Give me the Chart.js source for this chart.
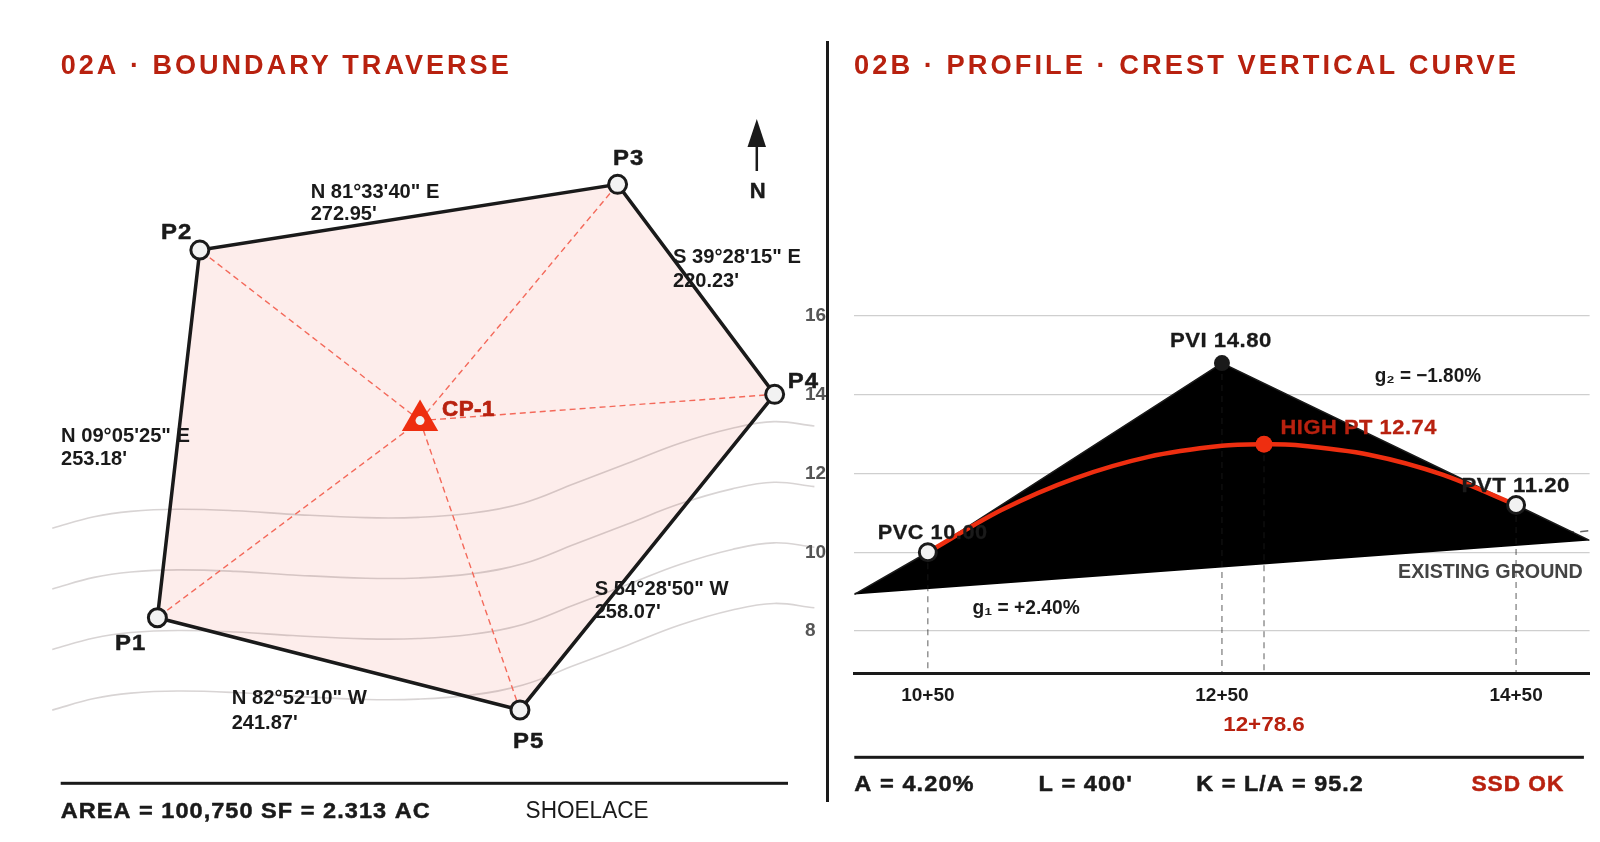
<!DOCTYPE html>
<html><head><meta charset="utf-8">
<style>
html,body{margin:0;padding:0;background:#fff;width:1600px;height:842px;overflow:hidden}
canvas{position:absolute;top:0;display:block}
#plan{left:0}
#profile{left:805px}
#divider{position:absolute;left:825.5px;top:41px;width:3.5px;height:761px;background:#1a1a1a}
</style>
<script src="https://cdn.jsdelivr.net/npm/chart.js@4"></script>
</head><body>
<canvas id="plan" width="828" height="842"></canvas>
<div id="divider"></div>
<canvas id="profile" width="795" height="842"></canvas>
<script>
const INK='#1a1a1a', RED='#b8210f', HOT='#ee2e10', FILL='#fdedeb';
// --- traverse data (feet)
const pointNames=['P1','P2','P3','P4','P5'];
const eastings=[0,28.3,306.8,411.5,241.7];
const northings=[0,245.1,288.9,148.9,-61.5];
const controlEast=[175.1], controlNorth=[131.4];
const contourEast=[-70.1,-42.2,-17.7,13.6,52,90.3,139.1,174,208.9,243.7,278.6,313.5,348.3,383.2,411.1,438];
const contourA=[59.6,67.3,70.9,72.3,71.3,68.9,66.7,66.9,69.6,76.3,89.6,102.9,116.3,126.3,130.7,127.8];
const contourB=[19.2,26.9,30.5,31.9,30.9,28.5,26.3,26.5,29.2,35.9,49.2,62.5,75.9,85.9,90.3,87.4];
const contourC=[-21.2,-13.5,-9.9,-8.5,-9.5,-11.9,-14.1,-13.9,-11.2,-4.5,8.8,22.1,35.5,45.5,49.9,47];
const contourD=[-61.6,-53.9,-50.3,-48.9,-49.9,-52.3,-54.5,-54.3,-51.6,-44.9,-31.6,-18.3,-4.9,5.1,9.5,6.6];
// --- profile data
const stationTicks=[1050,1250,1450];
const stationLabels=['10+50','12+50','14+50'];
const elevationTicks=[8,10,12,14,16];
const tangentStations=[1000,1050,1250,1450,1500];
const tangentElev=[8.93,10,14.8,11.2,10.3];
const groundStations=[1000,1100,1250,1400,1488,1500];
const groundElev=[8.95,9.9,11.4,11.2,10.52,10.55];
const curveStations=[1050,1100,1150,1200,1250,1278.6,1300,1350,1400,1450];
const curveElev=[10,11.07,11.875,12.42,12.7,12.74,12.72,12.475,11.97,11.2];
const keyStations=[1050,1250,1278.6,1450];
const keyElev=[10,14.8,12.74,11.2];

const zip=(a,b)=>a.map((v,i)=>({x:v,y:b[i]}));
const pick=(idx)=>idx.map(i=>({x:eastings[i],y:northings[i]}));
Chart.defaults.font.family='"Liberation Sans",Arial,sans-serif';

function txt(ctx,s,x,y,size,weight,color,width,align,spacing,stroke){
  ctx.save();
  ctx.font=`${weight} ${size}px "Liberation Sans",Arial,sans-serif`;
  ctx.fillStyle=color; ctx.textBaseline='middle'; ctx.textAlign='left';
  if(spacing) ctx.letterSpacing=spacing+'px';
  const m=ctx.measureText(s).width;
  const w=width||m, sx=w/m;
  const x0=align==='center'?x-w/2:x;
  ctx.translate(x0,y+1.5); ctx.scale(sx,1);
  if(stroke){ctx.strokeStyle=color;ctx.lineWidth=stroke;ctx.lineJoin='round';ctx.strokeText(s,0,0);}
  ctx.fillText(s,0,0);
  ctx.restore();
}
function rule(ctx,x0,x1,y,h){ctx.fillStyle=INK;ctx.fillRect(x0,y-h/2,x1-x0,h);}

const planText={id:'planText',afterDatasetsDraw(c){
  const ctx=c.ctx;
  txt(ctx,'02A · BOUNDARY TRAVERSE',60.7,64.7,27,'bold',RED,451,'left',3);
  [['P1',130.8,642.5],['P2',176.8,231],['P3',628.7,157],['P4',803.5,380.5],['P5',528.8,740.5]]
    .forEach(p=>txt(ctx,p[0],p[1],p[2],22,'bold',INK,31.4,'center',1,0.5));
  txt(ctx,'N',757.8,190,22,'bold',INK,null,'center',0,0.5);
  txt(ctx,'CP-1',442,408,22,'bold',RED,53,'left',0.5,0.7);
  [['N 81°33\'40" E',310.7,190.7,128.6,'272.95\'',213.3],
   ['S 39°28\'15" E',673,256,128,'220.23\'',280],
   ['N 09°05\'25" E',61,435,129,'253.18\'',458],
   ['S 54°28\'50" W',594.7,587.7,133.9,'258.07\'',611],
   ['N 82°52\'10" W',231.7,697,135.3,'241.87\'',721.7]].forEach(b=>{
     txt(ctx,b[0],b[1],b[2],20,'bold',INK,b[3]);
     txt(ctx,b[4],b[1],b[5],20,'bold',INK,66);
  });
  // north arrow
  ctx.strokeStyle=INK;ctx.lineWidth=2.5;ctx.beginPath();ctx.moveTo(756.8,146);ctx.lineTo(756.8,171);ctx.stroke();
  ctx.fillStyle=INK;ctx.beginPath();ctx.moveTo(756.8,119);ctx.lineTo(766,147);ctx.lineTo(747.5,147);ctx.closePath();ctx.fill();
  rule(ctx,60.7,788,783.3,3);
  txt(ctx,'AREA = 100,750 SF = 2.313 AC',60.7,810,22.5,'bold',INK,370,'left',1,0.5);
  txt(ctx,'SHOELACE',525.6,810,23,'normal',INK,123);
}};
new Chart(document.getElementById('plan'),{
  type:'scatter',
  plugins:[planText],
  data:{datasets:[
    {data:pick([0,1,2,3]),showLine:true,fill:'+1',backgroundColor:FILL,borderColor:INK,borderWidth:3.5,pointRadius:0,tension:0,order:3},
    {data:pick([0,4,3]),showLine:true,borderColor:INK,borderWidth:3.5,pointRadius:0,tension:0,order:3},
    ...[contourA,contourB,contourC,contourD].map(c=>({data:zip(contourEast,c),showLine:true,borderColor:'rgba(60,40,40,0.2)',borderWidth:1.6,pointRadius:0,tension:0.4,order:5})),
    ...[0,1,2,3,4].map(i=>({data:[{x:controlEast[0],y:controlNorth[0]},{x:eastings[i],y:northings[i]}],showLine:true,borderColor:'#f4695a',borderWidth:1.4,borderDash:[6,4],pointRadius:0,tension:0,order:4})),
    {data:zip(eastings,northings),pointStyle:'circle',pointRadius:9,pointBorderWidth:3,pointBackgroundColor:'#f2f2f2',pointBorderColor:INK,order:1},
    {data:zip(controlEast,controlNorth),pointStyle:'circle',pointRadius:4.5,pointBorderWidth:0,pointBackgroundColor:'#f2f2f2',order:0},
    {data:zip(controlEast,controlNorth),pointStyle:'triangle',pointRadius:21,pointBorderWidth:0,pointBackgroundColor:HOT,order:1}
  ]},
  options:{responsive:false,animation:false,devicePixelRatio:1,
    layout:{padding:0,autoPadding:false},
    plugins:{legend:{display:false},tooltip:{enabled:false},filler:{drawTime:'beforeDatasetsDraw'}},
    scales:{
      x:{type:'linear',display:false,min:-104.93,max:447.07},
      y:{type:'linear',display:false,min:-149.53,max:411.8}
    }}
});

const profileText={id:'profileText',afterDatasetsDraw(c){
  const ctx=c.ctx, L=-805;
  txt(ctx,'02B · PROFILE · CREST VERTICAL CURVE',854+L,64.7,27,'bold',RED,665,'left',3);
  txt(ctx,'PVI 14.80',1220.9+L,339.8,21,'bold',INK,102,'center',0.5,0.3);
  txt(ctx,'PVC 10.00',877.8+L,531.8,21,'bold',INK,109.8,'left',0.5,0.3);
  txt(ctx,'PVT 11.20',1461.5+L,484.5,21,'bold',INK,108.5,'left',0.5,0.3);
  txt(ctx,'HIGH PT 12.74',1280.5+L,426.5,21,'bold',RED,156.4,'left',0.5,0.3);
  txt(ctx,'g₂ = −1.80%',1374.7+L,375,20,'bold',INK,106.3);
  txt(ctx,'g₁ = +2.40%',972.5+L,606.7,20,'bold',INK,107.2);
  txt(ctx,'EXISTING GROUND',1398+L,571,20,'bold','#444',184.8);
  txt(ctx,'12+78.6',1264+L,723.3,21,'bold',RED,81.6,'center');
  rule(ctx,854.3+L,1583.9+L,757.3,3);
  txt(ctx,'A = 4.20%',854.3+L,783.3,22.5,'bold',INK,120.3,'left',1,0.5);
  txt(ctx,"L = 400'",1038.4+L,783.3,22.5,'bold',INK,94.5,'left',1,0.5);
  txt(ctx,'K = L/A = 95.2',1196.3+L,783.3,22.5,'bold',INK,167.5,'left',1,0.5);
  txt(ctx,'SSD OK',1471.4+L,783.3,22.5,'bold',RED,93,'left',1,0.5);
}};
new Chart(document.getElementById('profile'),{
  type:'scatter',
  plugins:[profileText],
  data:{datasets:[
    {data:zip(groundStations,groundElev),showLine:true,borderColor:'#666',borderWidth:1.5,borderDash:[8,6],pointRadius:0,tension:0.3,order:6},
    {data:zip(tangentStations,tangentElev),showLine:true,fill:'shape',backgroundColor:'#000',borderColor:INK,borderWidth:1.5,pointRadius:0,tension:0,order:5},
    ...keyStations.map((s,i)=>({data:[{x:s,y:keyElev[i]},{x:s,y:6.93}],showLine:true,borderColor:'rgba(30,30,30,0.6)',borderWidth:1.2,borderDash:[6,5],pointRadius:0,tension:0,order:4})),
    {data:zip(curveStations,curveElev),showLine:true,borderColor:HOT,borderWidth:4.5,pointRadius:0,tension:0.3,order:3},
    {data:[{x:keyStations[0],y:keyElev[0]},{x:keyStations[3],y:keyElev[3]}],pointStyle:'circle',pointRadius:8.5,pointBorderWidth:3,pointBackgroundColor:'#f2f2f2',pointBorderColor:INK,order:1},
    {data:[{x:keyStations[1],y:keyElev[1]}],pointRadius:8,pointBorderWidth:0,pointBackgroundColor:INK,order:1},
    {data:[{x:keyStations[2],y:keyElev[2]}],pointRadius:8.5,pointBorderWidth:0,pointBackgroundColor:HOT,order:1}
  ]},
  options:{responsive:false,animation:false,devicePixelRatio:1,
    layout:{padding:{top:276.3,right:10.4,left:0,bottom:0},autoPadding:false},
    plugins:{legend:{display:false},tooltip:{enabled:false},filler:{drawTime:'beforeDatasetDraw'}},
    scales:{
      x:{type:'linear',position:'bottom',min:1000,max:1500,
        afterBuildTicks(s){s.ticks=stationTicks.map(v=>({value:v}));},
        afterFit(s){s.height=168.7;},
        grid:{display:false,drawTicks:false},
        border:{display:true,color:INK,width:3},
        ticks:{padding:11,maxRotation:0,autoSkip:false,color:INK,font:{size:19,weight:'bold'},
          callback(v){return stationLabels[stationTicks.indexOf(v)];}}
      },
      y:{type:'linear',position:'left',min:6.93,max:17,
        afterBuildTicks(s){s.ticks=elevationTicks.map(v=>({value:v}));},
        afterFit(s){s.width=49.3;},
        grid:{color:'#cfcfcf',lineWidth:1.3,drawTicks:false},
        border:{display:false},
        ticks:{crossAlign:'far',padding:0,color:'#555',font:{size:19,weight:'bold'},callback:v=>String(v)}
      }
    }}
});
</script>
</body></html>
